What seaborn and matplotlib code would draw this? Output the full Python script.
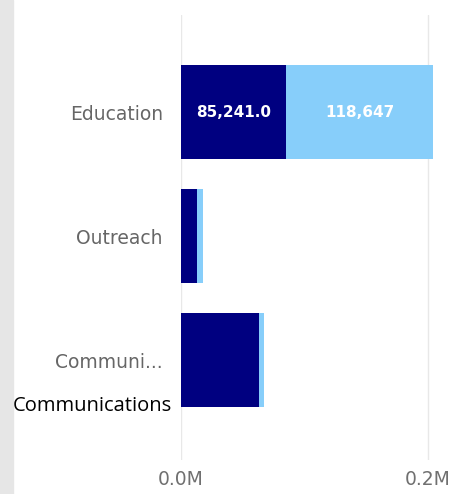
import matplotlib
matplotlib.use("Agg")
import matplotlib.pyplot as plt
import seaborn as sns
import pandas as pd
from matplotlib.patches import Rectangle

categories = ["Education", "Outreach", "Communications"]
tick_labels = ["Education", "Outreach", "Communi..."]
dark_vals = [85241.0, 12700, 63200]
light_vals = [118647, 5400, 3800]
x_ticks = [0, 200000]
x_tick_labels = ["0.0M", "0.2M"]

sns.set_style("white")
plt.rcParams['font.family'] = ['DejaVu Sans']

df = pd.DataFrame({"cat": categories, "dark": dark_vals, "light": light_vals})
df["total"] = df["dark"] + df["light"]

fig = plt.figure(figsize=(4.53, 4.94), dpi=100)
fig.patches.append(Rectangle((0, 0), 13 / 453, 1, transform=fig.transFigure,
                             color="#e6e6e6", zorder=0))
ax = fig.add_axes([181 / 453, 34 / 494, 264 / 453, 445 / 494])

# stacked: total in light blue underneath, dark part on top
sns.barplot(data=df, y="cat", x="total", color="#87cefa", orient="h",
            width=0.76, saturation=1, linewidth=0, ax=ax)
sns.barplot(data=df, y="cat", x="dark", color="#000080", orient="h",
            width=0.76, saturation=1, linewidth=0, ax=ax)

ax.set_xlim(0, 264 / 1235 * 1e6)
ax.set_ylim(2 + 100 / 124, -97 / 124)
ax.set_xticks(x_ticks)
ax.set_xticklabels(x_tick_labels)
ax.set_yticks(range(len(tick_labels)))
ax.set_yticklabels(tick_labels)
ax.set_xlabel("")
ax.set_ylabel("")
for s in ax.spines.values():
    s.set_visible(False)
ax.grid(axis="x", color="#e8e8e8", linewidth=1)
ax.set_axisbelow(True)
ax.tick_params(axis="x", length=0, pad=7, labelsize=13.5, labelcolor="#707070")
ax.tick_params(axis="y", length=0, pad=13, labelsize=13.5, labelcolor="#666666")

# data labels where the segment is wide enough
for i, row in df.iterrows():
    if row["dark"] > 50000 and row["light"] > 50000:
        ax.text(row["dark"] / 2, i, f"{row['dark']:,.1f}", color="white",
                ha="center", va="center", fontsize=11, fontweight="bold")
        ax.text(row["dark"] + row["light"] / 2, i, f"{row['light']:,.0f}",
                color="white", ha="center", va="center", fontsize=11,
                fontweight="bold")

fig.text(13 / 453, 1 - 406 / 494, "Communications", color="black",
         fontsize=14.5, va="center", ha="left", family=["Open Sans", "DejaVu Sans"])

fig.savefig("out.png", dpi=100)
